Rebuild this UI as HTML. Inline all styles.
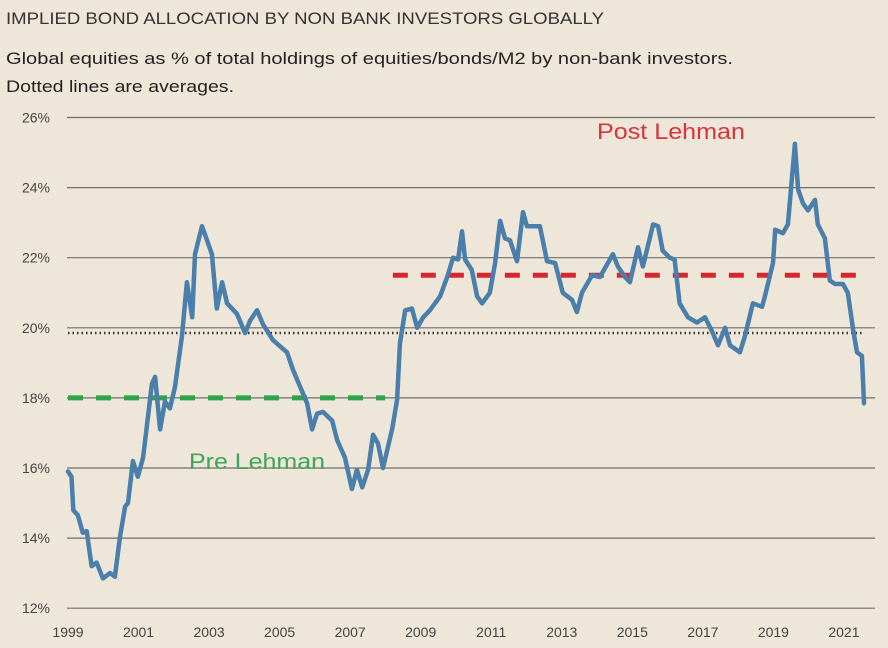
<!DOCTYPE html>
<html><head><meta charset="utf-8">
<style>
html,body{margin:0;padding:0;background:#eee6d8;}
svg{display:block;font-family:"Liberation Sans",sans-serif;}
</style></head>
<body>
<svg id="chart" width="888" height="648" viewBox="0 0 888 648" xmlns="http://www.w3.org/2000/svg">
<rect width="888" height="648" fill="#eee6d8"/>
<text x="6" y="24" font-size="17" fill="#333" textLength="598" lengthAdjust="spacingAndGlyphs">IMPLIED BOND ALLOCATION BY NON BANK INVESTORS GLOBALLY</text>
<text x="6" y="64" font-size="17" fill="#222" textLength="727" lengthAdjust="spacingAndGlyphs">Global equities as % of total holdings of equities/bonds/M2 by non-bank investors.</text>
<text x="6" y="92" font-size="17" fill="#222" textLength="228" lengthAdjust="spacingAndGlyphs">Dotted lines are averages.</text>
<g id="grid"></g>
<g id="avgs"></g>
<path id="series" fill="none" stroke="#4a7eab" stroke-width="4.5" stroke-linejoin="round" stroke-linecap="round"/>
<text x="597" y="139" font-size="22" fill="#d8343c" textLength="148" lengthAdjust="spacingAndGlyphs">Post Lehman</text>
<text x="189" y="469" font-size="22" fill="#3da658" textLength="136" lengthAdjust="spacingAndGlyphs">Pre Lehman</text>
<g id="xticks"></g>
</svg>
<script>
const yTicks = [12,14,16,18,20,22,24,26];
const xTickYears = [1999,2001,2003,2005,2007,2009,2011,2013,2015,2017,2019,2021];
const years = [1999.0,1999.10,1999.15,1999.28,1999.42,1999.53,1999.67,1999.81,1999.99,2000.19,2000.33,2000.47,2000.62,2000.70,2000.84,2000.98,2001.13,2001.38,2001.47,2001.61,2001.75,2001.89,2002.03,2002.23,2002.37,2002.52,2002.60,2002.80,2002.94,2003.08,2003.22,2003.37,2003.51,2003.79,2004.02,2004.16,2004.36,2004.53,2004.81,2005.21,2005.38,2005.78,2005.92,2006.06,2006.23,2006.49,2006.63,2006.85,2007.05,2007.19,2007.34,2007.51,2007.65,2007.79,2007.93,2008.19,2008.33,2008.41,2008.56,2008.75,2008.90,2009.07,2009.26,
2009.55,2009.75,2009.92,2010.06,2010.17,2010.26,2010.45,2010.60,2010.74,2010.96,2011.11,2011.25,2011.39,2011.53,2011.73,2011.90,2012.01,2012.38,2012.58,2012.81,2013.03,2013.29,2013.43,2013.57,2013.86,2014.08,2014.45,2014.59,2014.79,2014.93,2015.16,2015.30,2015.59,2015.73,2015.86,2016.06,2016.20,2016.34,2016.58,2016.83,2017.06,2017.26,2017.43,2017.63,2017.77,2018.05,2018.19,2018.42,2018.68,2018.76,2018.99,2019.05,2019.27,2019.41,2019.61,2019.70,2019.84,2019.98,2020.18,2020.26,2020.46,2020.60,2020.75,2020.97,2021.11,2021.26,2021.37,2021.51,2021.57];
const values = [15.9,15.75,14.8,14.65,14.15,14.2,13.2,13.3,12.85,13.0,12.9,14.0,14.9,15.0,16.2,15.75,16.3,18.4,18.6,17.1,17.9,17.7,18.3,19.75,21.3,20.3,22.1,22.9,22.5,22.1,20.55,21.3,20.7,20.4,19.85,20.2,20.5,20.1,19.65,19.3,18.8,17.85,17.1,17.55,17.6,17.35,16.8,16.3,15.4,15.95,15.45,15.95,16.95,16.7,16.0,17.1,17.95,19.55,20.5,20.55,20.0,20.3,20.5,
20.9,21.45,22.0,21.95,22.75,21.95,21.65,20.9,20.7,21.0,21.85,23.05,22.55,22.5,21.9,23.3,22.9,22.9,21.9,21.85,21.0,20.8,20.45,21.0,21.5,21.45,22.1,21.75,21.45,21.3,22.3,21.75,22.95,22.9,22.2,22.0,21.95,20.7,20.3,20.15,20.3,19.9,19.5,20.0,19.5,19.3,19.75,20.7,20.6,20.9,21.85,22.8,22.7,22.95,25.25,23.95,23.55,23.35,23.65,22.95,22.55,21.35,21.25,21.25,21.0,19.95,19.3,19.2,17.85];
const preAvg = [1999.0, 2007.99, 18.0];
const postAvg = [2008.21, 2021.65, 21.5];
const overallAvg = [1999.0, 2021.51, 19.85];

const NS="http://www.w3.org/2000/svg";
const X0=67, X1=875;
const xs = y => 68 + (y-1999)*35.27;
const ys = v => 117.5 + (26-v)*35.05;
function mk(tag, attrs, parent){const e=document.createElementNS(NS,tag);for(const k in attrs)e.setAttribute(k,attrs[k]);parent.appendChild(e);return e;}
const grid=document.getElementById('grid');
yTicks.forEach(t=>{
  const l=mk('line',{x1:X0,x2:X1,y1:ys(t),y2:ys(t),stroke:'#6f6f6f','stroke-width':1.2},grid);
  
  
  const tx=mk('text',{x:50,y:ys(t)+5,'text-anchor':'end','font-size':14,fill:'#444'},grid);
  tx.textContent=t+'%';
  
  
});
const xt=document.getElementById('xticks');
xTickYears.forEach(y=>{
  const tx=mk('text',{x:xs(y),y:637,'text-anchor':'middle','font-size':14,fill:'#444'},xt);
  tx.textContent=y;
  
  
});
const av=document.getElementById('avgs');
const ov=mk('line',{x1:xs(overallAvg[0]),x2:xs(overallAvg[1]),y1:ys(overallAvg[2]),y2:ys(overallAvg[2]),stroke:'#333','stroke-width':2.5,'stroke-dasharray':'1.5 3'},av);


const pr=mk('line',{x1:xs(preAvg[0]),x2:xs(preAvg[1]),y1:ys(preAvg[2]),y2:ys(preAvg[2]),stroke:'#2fa24a','stroke-width':5,'stroke-dasharray':'15 13'},av);


const po=mk('line',{x1:xs(postAvg[0]),x2:xs(postAvg[1]),y1:ys(postAvg[2]),y2:ys(postAvg[2]),stroke:'#d8262e','stroke-width':5,'stroke-dasharray':'15 13'},av);


let d='';
years.forEach((y,i)=>{d+=(i?'L':'M')+xs(y).toFixed(1)+' '+ys(values[i]).toFixed(1);});
document.getElementById('series').setAttribute('d',d);
</script>
</body></html>
